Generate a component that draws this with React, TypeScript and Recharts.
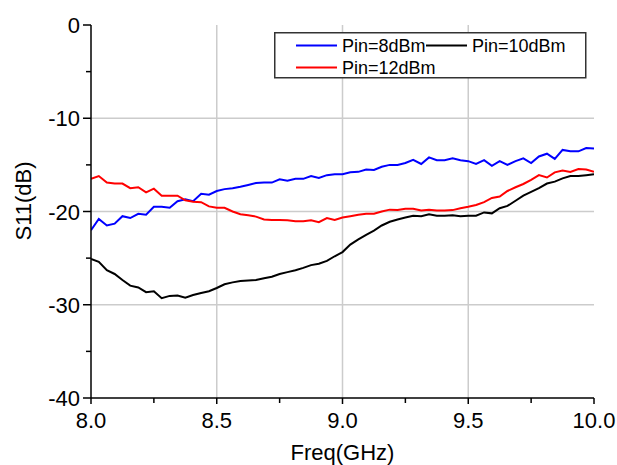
import React from 'react';
import { LineChart, Line, XAxis, YAxis, CartesianGrid, Legend } from 'recharts';

const freq = [
  8.0, 8.031, 8.063, 8.094, 8.125, 8.156, 8.188, 8.219, 8.25, 8.281,
  8.313, 8.344, 8.375, 8.406, 8.438, 8.469, 8.5, 8.531, 8.563, 8.594,
  8.625, 8.656, 8.688, 8.719, 8.75, 8.781, 8.813, 8.844, 8.875, 8.906,
  8.938, 8.969, 9.0, 9.031, 9.063, 9.094, 9.125, 9.156, 9.188, 9.219,
  9.25, 9.281, 9.313, 9.344, 9.375, 9.406, 9.438, 9.469, 9.5, 9.531,
  9.563, 9.594, 9.625, 9.656, 9.688, 9.719, 9.75, 9.781, 9.813, 9.844,
  9.875, 9.906, 9.938, 9.969, 10.0,
];

const pin8 = [
  -22.0, -20.8, -21.5, -21.3, -20.5, -20.7, -20.25, -20.35, -19.5, -19.5,
  -19.6, -18.9, -18.7, -18.9, -18.1, -18.2, -17.8, -17.6, -17.5, -17.35,
  -17.15, -16.95, -16.9, -16.9, -16.55, -16.7, -16.5, -16.5, -16.2, -16.4,
  -16.1, -16.0, -16.0, -15.8, -15.75, -15.5, -15.55, -15.2, -15.0, -15.0,
  -14.8, -14.45, -14.9, -14.2, -14.5, -14.5, -14.3, -14.5, -14.6, -14.9,
  -14.5, -15.1, -14.6, -15.0, -14.6, -14.3, -14.8, -14.1, -13.8, -14.35,
  -13.4, -13.55, -13.55, -13.2, -13.25,
];

const pin10 = [
  -25.1, -25.4, -26.3, -26.7, -27.35, -27.95, -28.15, -28.65, -28.55, -29.3,
  -29.05, -29.0, -29.25, -28.95, -28.75, -28.55, -28.2, -27.8, -27.6, -27.45,
  -27.4, -27.35, -27.15, -27.0, -26.7, -26.5, -26.3, -26.05, -25.75, -25.6,
  -25.3, -24.8, -24.35, -23.55, -23.0, -22.5, -22.05, -21.5, -21.1, -20.85,
  -20.65, -20.45, -20.5, -20.3, -20.45, -20.45, -20.4, -20.5, -20.45, -20.45,
  -20.1, -20.2, -19.65, -19.4, -18.85, -18.3, -17.9, -17.5, -17.0, -16.8,
  -16.45, -16.2, -16.2, -16.1, -16.0,
];

const pin12 = [
  -16.5, -16.2, -16.9, -17.0, -17.0, -17.5, -17.4, -17.95, -17.55, -18.3,
  -18.3, -18.3, -18.8, -18.95, -19.0, -19.45, -19.6, -19.6, -20.0, -20.3,
  -20.4, -20.55, -20.85, -20.9, -20.9, -20.95, -21.05, -21.05, -20.95, -21.15,
  -20.7, -20.9, -20.65, -20.5, -20.35, -20.25, -20.25, -20.0, -19.8, -19.85,
  -19.7, -19.7, -19.9, -19.8, -19.9, -19.9, -19.85, -19.65, -19.5, -19.3,
  -19.0, -18.55, -18.4, -17.8, -17.4, -17.05, -16.6, -16.1, -16.35, -15.8,
  -15.6, -15.75, -15.45, -15.5, -15.75,
];

const xTicks = [8.0, 8.25, 8.5, 8.75, 9.0, 9.25, 9.5, 9.75, 10.0];
const xMajor = [8.0, 8.5, 9.0, 9.5, 10.0];
const yTicks = [-40, -35, -30, -25, -20, -15, -10, -5, 0];
const yMajor = [-40, -30, -20, -10, 0];
const xGrid = [8.5, 9.0, 9.5];
const yGrid = [-30, -20, -10];

const series = [
  { key: 'pin8', name: 'Pin=8dBm', color: '#0000ff' },
  { key: 'pin10', name: 'Pin=10dBm', color: '#000000' },
  { key: 'pin12', name: 'Pin=12dBm', color: '#ff0000' },
];

const data = freq.map((f, i) => ({ freq: f, pin8: pin8[i], pin10: pin10[i], pin12: pin12[i] }));

const FONT = '"Liberation Sans", Arial, sans-serif';

const isIn = (arr: number[], v: number) => arr.some((a) => Math.abs(a - v) < 1e-6);

const BottomTick = (props: any) => {
  const { x, y, payload } = props;
  const v = payload.value;
  const major = isIn(xMajor, v);
  return (
    <g>
      <line x1={x} y1={y} x2={x} y2={y + (major ? 6 : 5)} stroke="#000" strokeWidth={1.5} />
      {major && (
        <text x={x} y={y + 30} textAnchor="middle" fontSize={22} fontFamily={FONT} fill="#000">
          {v.toFixed(1)}
        </text>
      )}
    </g>
  );
};

const TopTick = (props: any) => {
  const { x, y, payload } = props;
  const major = isIn(xMajor, payload.value);
  return <line x1={x} y1={y} x2={x} y2={y - (major ? 6 : 5)} stroke="#000" strokeWidth={1.5} />;
};

const LeftTick = (props: any) => {
  const { x, y, payload } = props;
  const v = payload.value;
  const major = isIn(yMajor, v);
  return (
    <g>
      <line x1={x} y1={y} x2={x - (major ? 8 : 5)} y2={y} stroke="#000" strokeWidth={1.5} />
      {major && (
        <text x={x - 11} y={y + 8} textAnchor="end" fontSize={22} fontFamily={FONT} fill="#000">
          {String(v)}
        </text>
      )}
    </g>
  );
};

const RightTick = (props: any) => {
  const { x, y, payload } = props;
  const major = isIn(yMajor, payload.value);
  return <line x1={x} y1={y} x2={x + (major ? 6 : 5)} y2={y} stroke="#000" strokeWidth={1.5} />;
};

const LegendBox = () => {
  const rows = [
    { s: series[0], lx: 22, ly: 13.5, tx: 68 },
    { s: series[1], lx: 152, ly: 13.5, tx: 198 },
    { s: series[2], lx: 22, ly: 35.5, tx: 68 },
  ];
  return (
    <svg width={313} height={47} style={{ display: 'block' }}>
      <rect x={0.75} y={0.75} width={311} height={45} fill="#fff" stroke="#333" strokeWidth={1.5} />
      {rows.map((r) => (
        <g key={r.s.key}>
          <line x1={r.lx} y1={r.ly} x2={r.lx + 41} y2={r.ly} stroke={r.s.color} strokeWidth={2} />
          <text x={r.tx} y={r.ly + 6.5} fontSize={18} fontFamily={FONT} fill="#000">
            {r.s.name}
          </text>
        </g>
      ))}
    </svg>
  );
};

export default function App() {
  return (
    <div style={{ width: 617, height: 465, background: '#fff' }}>
      <style>{'body{margin:0;background:#fff;}'}</style>
      <LineChart
        width={617}
        height={465}
        data={data}
        margin={{ top: 25, right: 23, left: 21, bottom: 7 }}
      >
        <CartesianGrid
          stroke="#cccccc"
          strokeWidth={1.5}
          verticalValues={xGrid}
          horizontalValues={yGrid}
        />
        <XAxis
          dataKey="freq"
          type="number"
          domain={[8, 10]}
          ticks={xTicks}
          allowDataOverflow
          height={60}
          tickSize={0}
          tickMargin={0}
          tickLine={false}
          axisLine={{ stroke: '#000', strokeWidth: 1.5 }}
          tick={<BottomTick />}
          interval={0}
          label={{
            content: (p: any) => {
              const vb = p.viewBox;
              return (
                <text x={vb.x + vb.width / 2} y={vb.y + 62} textAnchor="middle" fontSize={22} fontFamily={FONT} fill="#000">
                  Freq(GHz)
                </text>
              );
            },
          }}
        />
        <XAxis
          xAxisId="top"
          orientation="top"
          dataKey="freq"
          type="number"
          domain={[8, 10]}
          ticks={xTicks}
          allowDataOverflow
          height={0}
          tickSize={0}
          tickMargin={0}
          tickLine={false}
          axisLine={{ stroke: '#000', strokeWidth: 1.5 }}
          tick={<TopTick />}
          interval={0}
        />
        <YAxis
          type="number"
          domain={[-40, 0]}
          ticks={yTicks}
          allowDataOverflow
          width={70}
          tickSize={0}
          tickMargin={0}
          tickLine={false}
          axisLine={{ stroke: '#000', strokeWidth: 1.5 }}
          tick={<LeftTick />}
          interval={0}
          label={{
            content: () => (
              <text
                x={31}
                y={201}
                transform="rotate(-90 31 201)"
                textAnchor="middle"
                fontSize={22}
                fontFamily={FONT}
                fill="#000"
              >
                S11(dB)
              </text>
            ),
          }}
        />
        <YAxis
          yAxisId="right"
          orientation="right"
          type="number"
          domain={[-40, 0]}
          ticks={yTicks}
          allowDataOverflow
          width={0}
          tickSize={0}
          tickMargin={0}
          tickLine={false}
          axisLine={{ stroke: '#000', strokeWidth: 1.5 }}
          tick={<RightTick />}
          interval={0}
        />
        <Legend
          layout="horizontal"
          verticalAlign="middle"
          align="center"
          content={<LegendBox />}
          wrapperStyle={{ position: 'absolute', left: 274, top: 32, width: 313, height: 47 }}
        />
        {series.map((s) => (
          <Line
            key={s.key}
            type="linear"
            dataKey={s.key}
            name={s.name}
            stroke={s.color}
            strokeWidth={2}
            dot={false}
            activeDot={false}
            isAnimationActive={false}
          />
        ))}
      </LineChart>
    </div>
  );
}
